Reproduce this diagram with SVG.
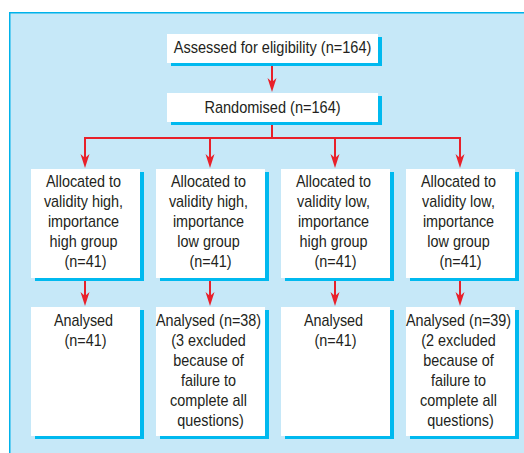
<svg xmlns="http://www.w3.org/2000/svg" width="524" height="453" viewBox="0 0 524 453">
<defs>
<style>
.panel{fill:#c6e8f8;stroke:#00b2ea;stroke-width:1.5}
.box{fill:#ffffff}
.sh{fill:#00b9ef}
.t{font-family:"Liberation Sans",Arial,Helvetica,sans-serif;font-size:16px;fill:#231f20;text-anchor:middle}
.c{fill:none;stroke:#e8202a;stroke-width:2}
</style>
<marker id="ah" viewBox="0 -5 14 10" markerWidth="14" markerHeight="10" refX="11" refY="0" orient="auto" markerUnits="userSpaceOnUse">
<path d="M0,-4.5 L14,0 L0,4.5 L4,0 Z" fill="#e8202a"/>
</marker>
</defs>
<rect class="panel" x="9.75" y="12.75" width="520" height="450"/>

<g id="connectors">
<path class="c" d="M272,63 V89" marker-end="url(#ah)"/>
<path class="c" d="M272,122 V138 M85,138 H460"/>
<path class="c" d="M85,137 V165" marker-end="url(#ah)"/>
<path class="c" d="M210,137 V165" marker-end="url(#ah)"/>
<path class="c" d="M335,137 V165" marker-end="url(#ah)"/>
<path class="c" d="M460,137 V165" marker-end="url(#ah)"/>
<path class="c" d="M85,278 V303" marker-end="url(#ah)"/>
<path class="c" d="M210,278 V303" marker-end="url(#ah)"/>
<path class="c" d="M335,278 V303" marker-end="url(#ah)"/>
<path class="c" d="M460,278 V303" marker-end="url(#ah)"/>
</g>

<g id="assessed">
<rect class="sh" x="171" y="37" width="211" height="29"/>
<rect class="box" x="167" y="34" width="211" height="29"/>
<g transform="translate(272.5,0) scale(0.91,1)"><text class="t" x="0" y="53.5">Assessed for eligibility (n=164)</text></g>
</g>

<g id="randomised">
<rect class="sh" x="171" y="96" width="211" height="29"/>
<rect class="box" x="167" y="93" width="211" height="29"/>
<g transform="translate(272.5,0) scale(0.91,1)"><text class="t" x="0" y="112.7">Randomised (n=164)</text></g>
</g>

<g id="alloc1">
<rect class="sh" x="35" y="172" width="109" height="109"/>
<rect class="box" x="31" y="169" width="109" height="109"/>
<g transform="translate(85.5,0) scale(0.9,1)"><text class="t">
<tspan x="0" y="187.3">Allocated to</tspan>
<tspan x="0" y="207.3">validity high,</tspan>
<tspan x="0" y="227.3">importance</tspan>
<tspan x="0" y="247.3">high group</tspan>
<tspan x="0" y="267.3">(n=41)</tspan>
</text></g>
</g>

<g id="alloc2">
<rect class="sh" x="160" y="172" width="109" height="109"/>
<rect class="box" x="156" y="169" width="109" height="109"/>
<g transform="translate(210.5,0) scale(0.9,1)"><text class="t">
<tspan x="0" y="187.3">Allocated to</tspan>
<tspan x="0" y="207.3">validity high,</tspan>
<tspan x="0" y="227.3">importance</tspan>
<tspan x="0" y="247.3">low group</tspan>
<tspan x="0" y="267.3">(n=41)</tspan>
</text></g>
</g>

<g id="alloc3">
<rect class="sh" x="285" y="172" width="109" height="109"/>
<rect class="box" x="281" y="169" width="109" height="109"/>
<g transform="translate(335.5,0) scale(0.9,1)"><text class="t">
<tspan x="0" y="187.3">Allocated to</tspan>
<tspan x="0" y="207.3">validity low,</tspan>
<tspan x="0" y="227.3">importance</tspan>
<tspan x="0" y="247.3">high group</tspan>
<tspan x="0" y="267.3">(n=41)</tspan>
</text></g>
</g>

<g id="alloc4">
<rect class="sh" x="410" y="172" width="109" height="109"/>
<rect class="box" x="406" y="169" width="109" height="109"/>
<g transform="translate(460.5,0) scale(0.9,1)"><text class="t">
<tspan x="0" y="187.3">Allocated to</tspan>
<tspan x="0" y="207.3">validity low,</tspan>
<tspan x="0" y="227.3">importance</tspan>
<tspan x="0" y="247.3">low group</tspan>
<tspan x="0" y="267.3">(n=41)</tspan>
</text></g>
</g>

<g id="analysed1">
<rect class="sh" x="35" y="310" width="109" height="129"/>
<rect class="box" x="31" y="307" width="109" height="129"/>
<g transform="translate(85.5,0) scale(0.9,1)"><text class="t">
<tspan x="0" y="325.8">Analysed</tspan>
<tspan x="0" y="345.8">(n=41)</tspan>
</text></g>
</g>

<g id="analysed2">
<rect class="sh" x="160" y="310" width="109" height="129"/>
<rect class="box" x="156" y="307" width="109" height="129"/>
<g transform="translate(210.5,0) scale(0.9,1)"><text class="t">
<tspan x="0" y="325.8">Analysed (n=38)</tspan>
<tspan x="0" y="345.8">(3 excluded</tspan>
<tspan x="0" y="365.8">because of</tspan>
<tspan x="0" y="385.8">failure to</tspan>
<tspan x="0" y="405.8">complete all</tspan>
<tspan x="0" y="425.8">questions)</tspan>
</text></g>
</g>

<g id="analysed3">
<rect class="sh" x="285" y="310" width="109" height="129"/>
<rect class="box" x="281" y="307" width="109" height="129"/>
<g transform="translate(335.5,0) scale(0.9,1)"><text class="t">
<tspan x="0" y="325.8">Analysed</tspan>
<tspan x="0" y="345.8">(n=41)</tspan>
</text></g>
</g>

<g id="analysed4">
<rect class="sh" x="410" y="310" width="109" height="129"/>
<rect class="box" x="406" y="307" width="109" height="129"/>
<g transform="translate(460.5,0) scale(0.9,1)"><text class="t">
<tspan x="0" y="325.8">Analysed (n=39)</tspan>
<tspan x="0" y="345.8">(2 excluded</tspan>
<tspan x="0" y="365.8">because of</tspan>
<tspan x="0" y="385.8">failure to</tspan>
<tspan x="0" y="405.8">complete all</tspan>
<tspan x="0" y="425.8">questions)</tspan>
</text></g>
</g>
</svg>
